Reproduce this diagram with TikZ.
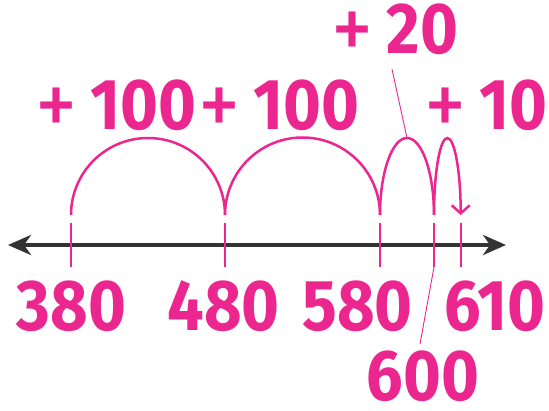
\documentclass[tikz,border=0pt]{standalone}
\usepackage{fontspec}
\usepackage{graphicx}
\setmainfont{Fira Sans}
\newfontfamily\numfont{Fira Sans}[FakeStretch=0.9]
\usetikzlibrary{arrows.meta}
\definecolor{jumppink}{HTML}{EC268F}
\definecolor{linegray}{HTML}{333333}
\newcommand{\jump}[1]{\raisebox{-7pt}{\scalebox{1.3}{\mdseries+}}\hspace{13pt}#1}

\tikzstyle{num} = [text=jumppink, font=\numfont\bfseries\fontsize{72}{72}\selectfont, anchor=base, inner sep=0pt]
\tikzstyle{tickline} = [draw=jumppink, line width=2pt]
\tikzstyle{hop} = [draw=jumppink, line width=2.5pt]
\tikzstyle{pointer} = [draw=jumppink, line width=0.9pt]
\tikzstyle{axis} = [draw=linegray, line width=4pt, {Stealth[length=23pt,width=20pt,inset=7pt]}-{Stealth[length=23pt,width=20pt,inset=7pt]}]

\begin{document}
\begin{tikzpicture}[x=1pt, y=1pt]
\useasboundingbox (0,0) rectangle (549,410);
% number line
\coordinate (left) at (8,165);
\coordinate (right) at (506,165);
\draw[axis] (left) -- (right);
% ticks and the feet of the jumps
\foreach \n/\x in {380/71, 480/225, 580/380, 600/434, 610/460.7} {
    \coordinate (t\n) at (\x,143);
    \coordinate (u\n) at (\x,187);
    \coordinate (h\n) at (\x,195);
    \draw[tickline] (t\n) -- (u\n);
}
% jumps
\draw[hop] (h380) arc[start angle=180, end angle=0, radius=77];
\draw[hop] (h480) arc[start angle=180, end angle=0, radius=77.5];
\draw[hop] (h580) arc[start angle=180, end angle=0, x radius=27, y radius=77];
\draw[hop, -{Straight Barb[length=8pt,width=18pt]}] (h600)
    arc[start angle=180, end angle=0, x radius=13.35, y radius=77];
\coordinate (top580) at (407,272);
% jump sizes
\node[num] (j1) at (115.5,280) {\jump{100}};
\node[num] (j2) at (279,280) {\jump{100}};
\node[num] (j3) at (395,356) {\jump{20}};
\node[num] (j4) at (486,280) {\jump{10}};
% numbers on the line
\node[num] (n380) at (71.5,80) {380};
\node[num] (n480) at (223.5,80) {480};
\node[num] (n580) at (357.5,80) {580};
\node[num] (n610) at (495,80) {610};
\node[num] (n600) at (423,10) {600};
% pointers
\draw[pointer] ([xshift=-3pt,yshift=-8pt]j3.south) -- (top580);
\draw[pointer] ([xshift=-3pt,yshift=6pt]n600.north) -- (t600);
\end{tikzpicture}
\end{document}
